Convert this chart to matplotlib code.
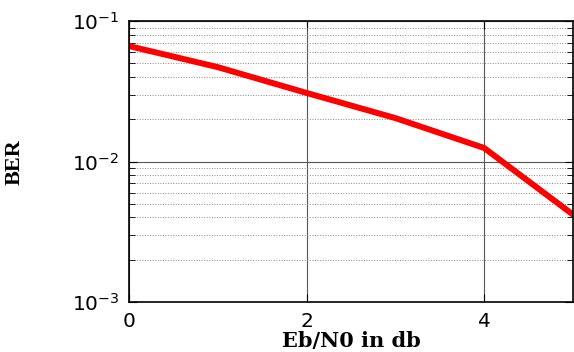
import numpy as np
import matplotlib.pyplot as plt
from matplotlib.ticker import LogLocator

# data
ebno = [0, 1, 2, 3, 4, 5]
ber = [0.0664, 0.047, 0.0308, 0.0204, 0.0125, 0.0042]

fig = plt.figure(figsize=(5.74, 3.52), dpi=100)
ax = fig.add_subplot(1, 1, 1)

ax.semilogy(ebno, ber, color="red", lw=4.3, solid_joinstyle="miter")

ax.set_xlim(0, 5)
ax.set_ylim(1e-3, 1e-1)
ax.set_xticks([0, 2, 4])
ax.yaxis.set_major_locator(LogLocator(base=10, numticks=5))
ax.yaxis.set_minor_locator(LogLocator(base=10, subs=np.arange(2, 10), numticks=20))

ax.grid(True, which="major", axis="both", color="#555555", lw=0.8, ls="-")
ax.grid(True, which="minor", axis="y", color="#888888", lw=0.7, ls=":")

ax.tick_params(which="both", direction="in", top=True, right=True, labelsize=14.5, pad=7)
ax.tick_params(which="minor", length=4)
ax.tick_params(which="major", length=6)
for sp in ax.spines.values():
    sp.set_linewidth(1.2)

ax.set_xlabel("Eb/N0 in db", family="DejaVu Serif", fontweight="bold", fontsize=15, labelpad=0)
ax.set_ylabel("BER", family="Liberation Serif", fontweight="bold", fontsize=16, labelpad=34)

plt.subplots_adjust(left=0.225, bottom=0.142, right=0.998, top=0.94)

plt.savefig("out.png", dpi=100)
